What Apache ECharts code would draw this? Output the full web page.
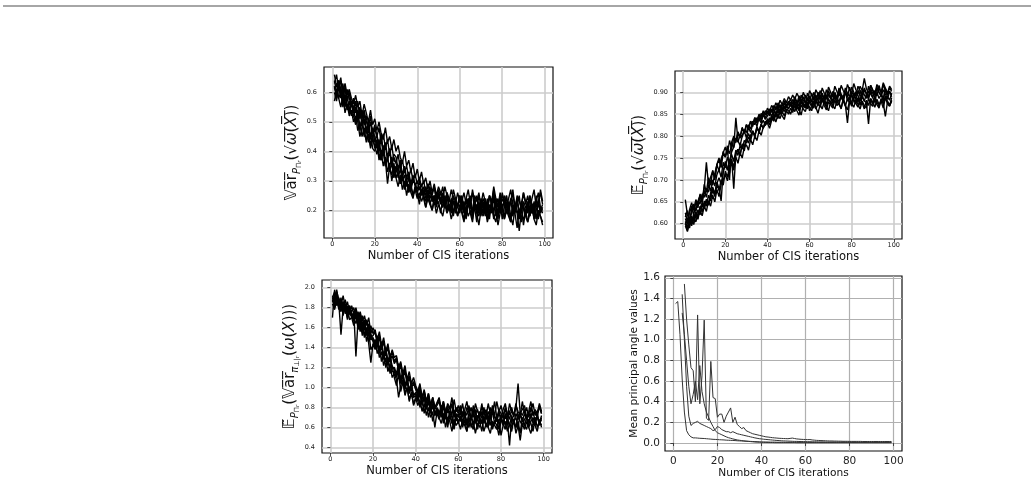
<!DOCTYPE html>
<html>
<head>
<meta charset="utf-8">
<script src="https://cdn.jsdelivr.net/npm/echarts@6/dist/echarts.min.js"></script>
<style>
html, body { margin: 0; padding: 0; background: #fff; }
#main { width: 1034px; height: 482px; }
</style>
</head>
<body>
<div id="main"></div>
<script>
// x values: CIS iteration number
var iterations = [];
for (var i = 1; i <= 99; i++) iterations.push(i);

var xTicks = [0, 20, 40, 60, 80, 100];
var varTicks = [0.2, 0.3, 0.4, 0.5, 0.6];
var meanTicks = [0.60, 0.65, 0.70, 0.75, 0.80, 0.85, 0.90];
var condTicks = [0.4, 0.6, 0.8, 1.0, 1.2, 1.4, 1.6, 1.8, 2.0];
var angleTicks = [0.0, 0.2, 0.4, 0.6, 0.8, 1.0, 1.2, 1.4, 1.6];

// top left: variance of sqrt(omega(X)), one row per run
var varRuns = [
  [.62,.58,.64,.60,.55,.59,.56,.53,.57,.52, .49,.54,.47,.50,.45,.48,.43,.46,.41,.40,
   .43,.37,.40,.35,.38,.33,.36,.30,.34,.31, .28,.32,.27,.30,.25,.29,.26,.24,.28,.26,
   .22,.27,.24,.21,.26,.23,.20,.25,.22,.23, .19,.24,.21,.26,.20,.22,.18,.23,.21,.19,
   .24,.20,.17,.22,.25,.19,.21,.16,.23,.20, .22,.18,.24,.19,.21,.26,.18,.20,.23,.17,
   .21,.25,.19,.16,.22,.20,.24,.18,.21,.15, .20,.23,.18,.22,.19,.25,.17,.21,.20],
  [.63,.66,.61,.64,.60,.63,.59,.61,.58,.56, .59,.55,.57,.52,.56,.53,.50,.54,.49,.51,
   .47,.50,.46,.44,.48,.43,.45,.41,.44,.40, .42,.38,.36,.40,.35,.37,.33,.36,.31,.34,
   .30,.33,.29,.31,.27,.30,.26,.29,.25,.28, .26,.24,.28,.25,.23,.27,.24,.22,.26,.23,
   .25,.21,.24,.27,.22,.20,.25,.23,.26,.21, .24,.22,.19,.25,.23,.27,.21,.24,.20,.26,
   .22,.25,.20,.23,.27,.21,.24,.19,.22,.26, .23,.20,.25,.22,.18,.24,.21,.27,.23],
  [.60,.57,.62,.58,.61,.55,.59,.54,.56,.53, .55,.50,.45,.48,.51,.46,.49,.44,.47,.45,
   .41,.44,.39,.42,.37,.29,.35,.38,.33,.35, .31,.34,.30,.32,.28,.31,.27,.30,.29,.26,
   .28,.25,.27,.24,.26,.28,.23,.25,.22,.26, .24,.21,.25,.22,.20,.24,.23,.19,.22,.25,
   .21,.23,.19,.24,.22,.18,.21,.25,.20,.22, .19,.24,.21,.17,.23,.20,.22,.18,.25,.21,
   .23,.19,.21,.24,.18,.22,.20,.17,.23,.21, .18,.22,.25,.19,.21,.17,.23,.20,.22],
  [.66,.62,.64,.59,.63,.57,.61,.58,.55,.58, .53,.57,.51,.54,.49,.52,.47,.50,.44,.48,
   .45,.42,.46,.40,.43,.38,.41,.36,.39,.38, .34,.37,.32,.35,.31,.33,.29,.32,.28,.30,
   .27,.29,.25,.28,.24,.27,.23,.25,.22,.26, .23,.21,.24,.20,.22,.19,.23,.21,.18,.22,
   .20,.17,.21,.23,.19,.16,.22,.20,.18,.21, .19,.22,.17,.20,.23,.18,.16,.21,.19,.22,
   .17,.20,.23,.18,.15,.21,.19,.13,.20,.22, .18,.16,.21,.19,.23,.17,.20,.18,.15],
  [.61,.63,.58,.60,.56,.59,.54,.57,.52,.55, .50,.53,.48,.51,.46,.44,.48,.42,.45,.41,
   .44,.39,.37,.41,.35,.38,.34,.32,.36,.31, .33,.29,.32,.28,.30,.27,.29,.25,.28,.26,
   .24,.27,.25,.23,.26,.22,.25,.24,.21,.25, .23,.26,.21,.24,.22,.20,.25,.23,.21,.24,
   .22,.19,.24,.21,.23,.26,.20,.22,.19,.24, .21,.23,.20,.25,.22,.19,.24,.21,.23,.20,
   .24,.21,.19,.23,.26,.20,.22,.25,.19,.23, .21,.19,.24,.22,.20,.23,.26,.21,.19],
  [.62,.59,.64,.61,.58,.62,.57,.60,.56,.55, .57,.52,.55,.51,.54,.50,.48,.52,.46,.49,
   .45,.48,.43,.46,.41,.44,.39,.42,.37,.36, .39,.34,.37,.33,.35,.31,.34,.30,.32,.29,
   .31,.28,.30,.26,.29,.27,.25,.28,.24,.27, .25,.28,.23,.26,.24,.22,.27,.24,.21,.25,
   .23,.26,.22,.24,.21,.27,.23,.20,.25,.22, .26,.23,.21,.25,.22,.28,.24,.21,.26,.23,
   .25,.21,.24,.27,.22,.20,.25,.23,.21,.26, .22,.25,.20,.24,.27,.21,.23,.26,.22],
  [.57,.61,.58,.55,.59,.53,.56,.52,.54,.50, .52,.47,.50,.45,.48,.43,.46,.41,.44,.42,
   .39,.42,.37,.40,.35,.38,.33,.36,.31,.34, .32,.29,.31,.27,.30,.26,.28,.25,.27,.24,
   .26,.23,.25,.21,.24,.22,.20,.23,.19,.22, .20,.18,.22,.19,.21,.17,.20,.22,.18,.21,
   .19,.16,.21,.18,.20,.17,.22,.19,.15,.20, .18,.21,.16,.19,.22,.17,.20,.15,.19,.21,
   .17,.20,.18,.16,.21,.19,.14,.20,.18,.17, .20,.16,.19,.22,.17,.15,.20,.18,.16],
  [.64,.60,.62,.65,.59,.61,.57,.60,.56,.54, .57,.51,.54,.49,.53,.47,.50,.45,.48,.43,
   .46,.41,.44,.39,.42,.37,.40,.35,.38,.36, .33,.36,.31,.34,.30,.32,.28,.31,.29,.27,
   .30,.26,.28,.25,.27,.24,.26,.28,.23,.25, .22,.25,.23,.20,.24,.22,.19,.23,.21,.24,
   .20,.22,.18,.23,.21,.19,.24,.20,.22,.18, .23,.20,.18,.22,.19,.24,.21,.17,.22,.20,
   .18,.23,.20,.17,.21,.19,.23,.20,.16,.21, .19,.22,.18,.21,.17,.20,.23,.19,.21]
];

// top right: mean of sqrt(omega(X))
var meanRuns = [
  [.612,.598,.625,.640,.618,.652,.636,.665,.648,.690, .672,.705,.688,.722,.700,.735,.745,.728,.762,.775,
   .758,.790,.772,.796,.785,.808,.795,.820,.806,.826, .815,.834,.822,.842,.830,.848,.836,.852,.840,.858,
   .846,.862,.850,.868,.856,.872,.860,.876,.864,.880, .868,.884,.872,.862,.886,.874,.890,.878,.866,.892,
   .880,.870,.894,.882,.874,.898,.884,.872,.896,.886, .876,.900,.888,.878,.894,.884,.902,.880,.890,.874,
   .898,.886,.878,.904,.890,.880,.896,.884,.906,.888, .878,.900,.886,.894,.880,.908,.890,.882,.898],
  [.600,.585,.608,.595,.615,.604,.622,.630,.618,.640, .628,.652,.640,.665,.650,.678,.662,.690,.700,.712,
   .698,.725,.740,.722,.752,.738,.762,.750,.775,.780, .768,.792,.780,.800,.790,.812,.802,.820,.826,.830,
   .818,.836,.845,.832,.850,.840,.856,.846,.862,.858, .850,.866,.856,.872,.860,.848,.870,.864,.878,.858,
   .868,.880,.862,.874,.866,.884,.870,.860,.878,.872, .864,.882,.870,.876,.862,.886,.872,.830,.880,.868,
   .884,.874,.866,.888,.876,.862,.882,.870,.886,.878, .866,.884,.872,.880,.864,.888,.874,.868,.882],
  [.655,.620,.608,.632,.645,.628,.652,.664,.648,.676, .660,.690,.674,.700,.686,.712,.724,.706,.740,.728,
   .752,.736,.764,.775,.842,.790,.778,.800,.812,.796, .820,.808,.828,.836,.822,.842,.830,.850,.838,.846,
   .856,.844,.862,.850,.868,.856,.874,.862,.880,.870, .878,.866,.886,.874,.892,.880,.870,.894,.882,.876,
   .898,.884,.872,.900,.888,.878,.894,.884,.904,.890, .880,.896,.886,.910,.892,.882,.900,.890,.912,.894,
   .884,.902,.892,.880,.906,.894,.886,.914,.896,.888, .904,.892,.916,.898,.886,.908,.894,.902,.890],
  [.595,.582,.604,.612,.598,.622,.610,.635,.648,.640, .656,.645,.670,.684,.668,.695,.680,.652,.720,.742,
   .728,.715,.748,.680,.760,.770,.756,.782,.776,.795, .784,.802,.812,.798,.820,.808,.826,.836,.824,.840,
   .832,.848,.838,.856,.844,.862,.852,.868,.858,.864, .872,.860,.876,.866,.858,.880,.868,.874,.862,.882,
   .872,.864,.886,.874,.868,.888,.876,.866,.884,.878, .870,.890,.878,.872,.892,.880,.868,.886,.876,.894,
   .882,.874,.888,.870,.892,.880,.876,.828,.884,.872, .890,.878,.868,.886,.874,.892,.880,.870,.888],
  [.615,.630,.608,.625,.642,.630,.650,.645,.668,.660, .680,.672,.700,.688,.715,.735,.720,.748,.760,.752,
   .770,.760,.782,.774,.796,.786,.804,.798,.815,.808, .826,.816,.834,.826,.842,.834,.852,.844,.858,.850,
   .862,.854,.870,.860,.876,.866,.858,.880,.870,.876, .884,.872,.890,.878,.868,.894,.882,.876,.898,.886,
   .878,.900,.890,.882,.904,.892,.884,.906,.894,.886, .902,.892,.884,.908,.896,.888,.910,.898,.890,.912,
   .900,.892,.914,.904,.894,.910,.898,.890,.916,.904, .894,.912,.900,.892,.918,.904,.896,.910,.902],
  [.600,.612,.590,.618,.605,.628,.615,.640,.626,.652, .640,.665,.652,.678,.662,.690,.676,.700,.688,.720,
   .706,.732,.745,.730,.758,.770,.756,.780,.766,.792, .806,.794,.812,.800,.822,.810,.828,.818,.832,.836,
   .826,.842,.834,.850,.840,.856,.846,.838,.858,.850, .864,.854,.870,.858,.848,.872,.862,.856,.874,.866,
   .858,.876,.866,.852,.872,.862,.880,.868,.858,.878, .870,.862,.882,.872,.864,.884,.870,.860,.880,.874,
   .866,.884,.872,.862,.880,.870,.864,.886,.874,.868, .882,.872,.864,.884,.876,.845,.878,.870,.880],
  [.625,.605,.632,.648,.630,.655,.642,.668,.655,.680, .740,.690,.706,.720,.704,.735,.750,.738,.765,.752,
   .778,.700,.786,.800,.788,.810,.798,.818,.808,.826, .818,.834,.826,.842,.834,.850,.842,.858,.848,.864,
   .856,.870,.862,.876,.866,.882,.872,.886,.876,.890, .882,.894,.884,.898,.888,.876,.900,.890,.880,.904,
   .894,.884,.906,.896,.886,.910,.898,.888,.912,.900, .890,.914,.902,.892,.916,.904,.894,.918,.906,.896,
   .920,.906,.896,.914,.904,.932,.908,.898,.916,.906, .896,.918,.908,.900,.922,.910,.898,.914,.906],
  [.605,.590,.615,.600,.622,.612,.632,.620,.645,.634, .652,.642,.665,.680,.668,.692,.705,.690,.718,.735,
   .722,.745,.758,.742,.768,.756,.778,.770,.790,.784, .798,.790,.810,.802,.818,.810,.826,.818,.834,.828,
   .842,.836,.850,.844,.858,.850,.864,.856,.870,.862, .874,.866,.880,.870,.862,.884,.874,.866,.888,.876,
   .868,.890,.880,.872,.892,.882,.874,.894,.884,.876, .896,.886,.878,.898,.888,.880,.900,.890,.882,.902,
   .892,.884,.904,.894,.886,.906,.896,.888,.908,.898, .888,.910,.900,.892,.906,.896,.884,.902,.894]
];

// bottom left: mean of the conditional variance of omega(X)
var condRuns = [
  [1.88,1.80,1.94,1.78,1.86,1.72,1.82,1.68,1.76,1.70, 1.62,1.74,1.58,1.66,1.52,1.62,1.46,1.56,1.38,1.42,
   1.48,1.34,1.40,1.26,1.36,1.20,1.30,1.14,1.22,1.10, 1.02,1.14,0.96,1.06,0.92,1.00,0.86,0.96,0.82,0.88,
   0.94,0.80,0.88,0.74,0.84,0.70,0.80,0.66,0.76,0.74, 0.68,0.78,0.64,0.74,0.60,0.72,0.66,0.58,0.70,0.64,
   0.72,0.60,0.68,0.56,0.70,0.64,0.58,0.72,0.62,0.66, 0.56,0.70,0.64,0.60,0.74,0.58,0.66,0.62,0.52,0.68,
   0.64,0.58,0.70,0.62,0.56,0.68,0.60,0.66,0.54,0.70, 0.62,0.58,0.68,0.64,0.56,0.70,0.60,0.66,0.62],
  [1.90,1.84,1.96,1.88,1.82,1.92,1.80,1.86,1.76,1.82, 1.74,1.80,1.70,1.76,1.66,1.72,1.62,1.70,1.54,1.60,
   1.54,1.48,1.56,1.42,1.50,1.36,1.44,1.30,1.38,1.30, 1.32,1.20,1.26,1.14,1.22,1.08,1.16,1.04,1.10,1.02,
   0.96,1.04,0.90,0.98,0.86,0.94,0.82,0.90,0.80,0.85, 0.90,0.78,0.86,0.74,0.84,0.80,0.72,0.88,0.76,0.82,
   0.74,0.84,0.70,0.80,0.76,0.68,0.82,0.74,0.78,0.70, 0.84,0.72,0.78,0.68,0.80,0.74,0.86,0.70,0.76,0.82,
   0.72,0.78,0.70,0.84,0.76,0.72,0.80,1.04,0.74,0.78, 0.82,0.70,0.76,0.86,0.72,0.78,0.74,0.84,0.76],
  [1.70,1.98,1.86,1.80,1.90,1.76,1.84,1.70,1.78,1.72, 1.66,1.76,1.62,1.70,1.56,1.64,1.52,1.60,1.48,1.50,
   1.44,1.52,1.38,1.46,1.32,1.40,1.26,1.34,1.20,1.20, 1.14,1.24,1.08,1.16,1.02,1.10,0.98,1.04,0.92,0.95,
   0.88,0.98,0.84,0.92,0.80,0.88,0.76,0.84,0.72,0.80, 0.76,0.70,0.82,0.68,0.78,0.72,0.64,0.76,0.70,0.74,
   0.66,0.76,0.70,0.62,0.74,0.68,0.78,0.64,0.72,0.70, 0.76,0.64,0.72,0.68,0.62,0.76,0.70,0.66,0.74,0.68,
   0.62,0.72,0.66,0.76,0.70,0.64,0.74,0.68,0.72,0.66, 0.74,0.68,0.62,0.72,0.76,0.66,0.70,0.64,0.72],
  [1.92,1.86,1.98,1.84,1.53,1.80,1.88,1.76,1.82,1.74, 1.70,1.64,1.72,1.58,1.66,1.52,1.60,1.46,1.54,1.46,
   1.40,1.48,1.34,1.42,1.28,1.36,1.22,1.30,1.16,1.16, 1.10,1.18,1.04,1.12,0.98,1.06,0.94,1.00,0.90,0.92,
   0.86,0.94,0.82,0.90,0.78,0.86,0.74,0.82,0.72,0.78, 0.72,0.80,0.68,0.76,0.64,0.74,0.70,0.60,0.72,0.66,
   0.70,0.62,0.74,0.66,0.60,0.72,0.64,0.68,0.58,0.70, 0.64,0.72,0.60,0.68,0.74,0.62,0.66,0.70,0.58,0.68,
   0.72,0.62,0.66,0.42,0.70,0.64,0.60,0.72,0.66,0.62, 0.68,0.72,0.60,0.66,0.70,0.62,0.74,0.64,0.68],
  [1.86,1.92,1.82,1.88,1.78,1.84,1.80,1.74,1.82,1.76, 1.80,1.70,1.76,1.64,1.72,1.60,1.68,1.56,1.62,1.54,
   1.58,1.46,1.52,1.40,1.46,1.34,1.40,1.28,1.32,1.24, 1.28,1.16,1.22,1.10,1.16,1.04,1.10,1.00,1.04,0.98,
   0.92,1.00,0.88,0.96,0.84,0.92,0.80,0.88,0.78,0.82, 0.86,0.76,0.84,0.72,0.80,0.74,0.84,0.70,0.78,0.74,
   0.80,0.70,0.76,0.72,0.82,0.68,0.74,0.78,0.66,0.76, 0.72,0.80,0.68,0.76,0.70,0.82,0.72,0.66,0.78,0.74,
   0.70,0.80,0.74,0.68,0.78,0.72,0.84,0.70,0.76,0.72, 0.78,0.68,0.74,0.80,0.72,0.76,0.70,0.82,0.74],
  [1.90,1.96,1.84,1.90,1.80,1.86,1.74,1.80,1.68,1.70, 1.76,1.31,1.68,1.56,1.64,1.50,1.58,1.44,1.25,1.44,
   1.38,1.44,1.30,1.36,1.22,1.30,1.16,1.24,1.10,1.14, 1.08,0.90,1.02,1.08,0.94,1.00,0.88,0.94,0.84,0.90,
   0.82,0.88,0.76,0.84,0.72,0.80,0.70,0.76,0.60,0.76, 0.70,0.64,0.74,0.60,0.70,0.66,0.56,0.68,0.62,0.66,
   0.58,0.68,0.62,0.56,0.70,0.60,0.66,0.54,0.64,0.60, 0.68,0.56,0.64,0.60,0.54,0.66,0.62,0.58,0.68,0.52,
   0.62,0.66,0.56,0.64,0.60,0.68,0.54,0.62,0.47,0.64, 0.58,0.66,0.60,0.54,0.64,0.62,0.56,0.68,0.60],
  [1.84,1.78,1.88,1.82,1.76,1.86,1.80,1.74,1.78,1.74, 1.70,1.78,1.66,1.74,1.60,1.68,1.56,1.64,1.50,1.52,
   1.56,1.44,1.50,1.38,1.46,1.34,1.40,1.30,1.36,1.26, 1.30,1.18,1.24,1.12,1.18,1.06,1.12,1.02,1.06,1.00,
   0.94,1.02,0.90,0.96,0.86,0.94,0.82,0.90,0.80,0.84, 0.88,0.78,0.86,0.76,0.82,0.78,0.90,0.74,0.80,0.76,
   0.82,0.72,0.78,0.86,0.74,0.80,0.70,0.84,0.76,0.72, 0.80,0.76,0.70,0.84,0.74,0.78,0.72,0.86,0.76,0.70,
   0.78,0.84,0.72,0.76,0.80,0.70,0.82,0.76,0.72,0.86, 0.74,0.80,0.70,0.78,0.84,0.72,0.76,0.80,0.74],
  [1.88,1.82,1.92,1.86,1.80,1.84,1.76,1.82,1.74,1.72, 1.68,1.74,1.64,1.70,1.58,1.66,1.54,1.60,1.48,1.48,
   1.42,1.50,1.36,1.44,1.30,1.38,1.24,1.32,1.20,1.18, 1.12,1.20,1.06,1.14,1.00,1.08,0.96,1.02,0.92,0.94,
   0.88,0.96,0.84,0.90,0.80,0.88,0.76,0.84,0.74,0.79, 0.74,0.82,0.70,0.78,0.66,0.76,0.72,0.64,0.74,0.70,
   0.76,0.66,0.72,0.64,0.74,0.70,0.62,0.76,0.68,0.64, 0.72,0.66,0.74,0.62,0.70,0.76,0.64,0.70,0.66,0.72,
   0.64,0.74,0.68,0.62,0.72,0.66,0.70,0.60,0.74,0.68, 0.62,0.70,0.66,0.74,0.64,0.68,0.72,0.62,0.70]
];

// bottom right: mean principal angle values (null = run not started yet)
var angleRuns = [
  [1.35,1.37,1.05,0.62,0.30,0.12,0.08,0.06,0.05,0.05, 0.048,0.046,0.045,0.044,0.042,0.040,0.038,0.036,0.035,0.034,
   0.032,0.031,0.030,0.028,0.027,0.026,0.025,0.024,0.022,0.021, 0.020,0.019,0.018,0.017,0.016,0.015,0.014,0.013,0.012,0.011,
   0.011,0.010,0.010,0.009,0.009,0.009,0.008,0.008,0.008,0.008, 0.007,0.007,0.007,0.007,0.007,0.007,0.007,0.007,0.007,0.007,
   0.006,0.006,0.006,0.006,0.006,0.006,0.006,0.006,0.006,0.006, 0.006,0.006,0.006,0.006,0.006,0.006,0.006,0.006,0.006,0.006,
   0.005,0.005,0.005,0.005,0.005,0.005,0.005,0.005,0.005,0.005, 0.005,0.005,0.005,0.005,0.005,0.005,0.005,0.005,0.005],
  [null,null,null,1.44,1.00,0.55,0.26,0.17,0.19,0.20, 0.21,0.19,0.18,0.17,0.16,0.15,0.14,0.12,0.13,0.16,
   0.15,0.13,0.12,0.11,0.11,0.10,0.11,0.10,0.09,0.085, 0.080,0.075,0.070,0.065,0.060,0.055,0.050,0.046,0.042,0.040,
   0.037,0.035,0.033,0.031,0.029,0.027,0.025,0.024,0.022,0.021, 0.020,0.019,0.018,0.017,0.016,0.016,0.015,0.015,0.014,0.014,
   0.013,0.013,0.012,0.012,0.012,0.011,0.011,0.011,0.010,0.010, 0.010,0.010,0.010,0.010,0.010,0.010,0.010,0.010,0.010,0.010,
   0.009,0.009,0.009,0.009,0.009,0.009,0.009,0.009,0.009,0.009, 0.009,0.009,0.009,0.009,0.009,0.009,0.009,0.009,0.009],
  [null,null,null,1.26,1.05,0.80,0.55,0.38,0.47,0.60, 0.42,0.75,0.50,0.38,0.30,0.25,0.20,0.16,0.12,0.10,
   0.090,0.080,0.070,0.060,0.052,0.046,0.040,0.035,0.030,0.027, 0.024,0.021,0.018,0.016,0.014,0.012,0.010,0.009,0.008,0.007,
   0.006,0.006,0.005,0.005,0.005,0.004,0.004,0.004,0.004,0.004, 0.004,0.004,0.004,0.004,0.004,0.003,0.003,0.003,0.003,0.003,
   0.003,0.003,0.003,0.003,0.003,0.003,0.003,0.003,0.003,0.003, 0.003,0.003,0.003,0.003,0.003,0.003,0.003,0.003,0.003,0.003,
   0.003,0.003,0.003,0.003,0.003,0.003,0.003,0.003,0.003,0.003, 0.003,0.003,0.003,0.003,0.003,0.003,0.003,0.003,0.003],
  [null,null,null,null,1.54,1.20,0.95,0.73,0.70,0.40, 1.24,0.38,0.65,1.19,0.24,0.22,0.79,0.44,0.43,0.25,
   0.28,0.28,0.20,0.26,0.30,0.34,0.20,0.25,0.18,0.16, 0.14,0.15,0.12,0.11,0.10,0.09,0.085,0.080,0.075,0.070,
   0.065,0.060,0.058,0.055,0.052,0.050,0.048,0.046,0.045,0.044, 0.043,0.042,0.045,0.048,0.044,0.040,0.038,0.036,0.035,0.034,
   0.033,0.034,0.030,0.028,0.026,0.025,0.024,0.023,0.022,0.021, 0.020,0.020,0.019,0.019,0.018,0.018,0.017,0.017,0.017,0.016,
   0.016,0.016,0.016,0.016,0.016,0.015,0.015,0.015,0.015,0.015, 0.015,0.015,0.015,0.015,0.015,0.015,0.015,0.015,0.015]
];

var dom = document.getElementById('main');
var myChart = echarts.init(dom);

function toPoints(vals) {
  var pts = [];
  vals.forEach(function (v, i) {
    if (v !== null) pts.push([iterations[i], v]);
  });
  return pts;
}

function runSeries(runs, idx, color, width) {
  return runs.map(function (r) {
    return {
      type: 'line', xAxisIndex: idx, yAxisIndex: idx,
      data: toPoints(r), symbol: 'none', silent: true,
      lineStyle: { color: color, width: width }
    };
  });
}

var smallGrid = { color: '#cccccc', width: 1.6 };
var bigGrid = { color: '#b0b0b0', width: 1.2 };

function xAxisFor(idx, min, max, big) {
  return {
    type: 'value', gridIndex: idx, min: min, max: max,
    name: 'Number of CIS iterations', nameLocation: 'middle',
    nameGap: big ? 13 : 12,
    nameTextStyle: { fontFamily: 'DejaVu Sans', fontSize: big ? 10.6 : 11.5, color: '#111' },
    axisLine: { show: false },
    axisTick: { customValues: xTicks, length: 3, lineStyle: { color: '#222', width: 0.8 } },
    axisLabel: { customValues: xTicks, margin: big ? 5 : 3, fontFamily: 'DejaVu Sans',
                 fontSize: big ? 10.5 : 6.5, color: '#222' },
    splitLine: { show: true, lineStyle: big ? bigGrid : smallGrid }
  };
}

function yAxisFor(idx, min, max, ticks, digits, name, gap, big) {
  return {
    type: 'value', gridIndex: idx, min: min, max: max,
    name: name, nameLocation: 'middle', nameRotate: 90, nameGap: gap,
    nameTextStyle: big
      ? { fontFamily: 'DejaVu Sans', fontSize: 10.6, color: '#111' }
      : { fontFamily: 'DejaVu Sans', color: '#111', rich: mathRich },
    axisLine: { show: false },
    axisTick: { customValues: ticks, length: 3, lineStyle: { color: '#222', width: 0.8 } },
    axisLabel: { customValues: ticks, margin: big ? 5 : 7, fontFamily: 'DejaVu Sans',
                 fontSize: big ? 10.5 : 6.5, color: '#222',
                 formatter: function (v) { return v.toFixed(digits); } },
    splitLine: { show: true, lineStyle: big ? bigGrid : smallGrid }
  };
}

var mathRich = {
  m: { fontFamily: 'DejaVu Sans', fontSize: 15, lineHeight: 22, verticalAlign: 'middle', color: '#111' },
  mi: { fontFamily: 'DejaVu Sans', fontStyle: 'italic', fontSize: 15, lineHeight: 22, verticalAlign: 'middle', color: '#111' },
  s: { fontFamily: 'DejaVu Sans', fontStyle: 'italic', fontSize: 10, lineHeight: 13, verticalAlign: 'bottom', color: '#111' },
  ss: { fontFamily: 'DejaVu Sans', fontSize: 7, lineHeight: 8, verticalAlign: 'bottom', color: '#111' },
  sss: { fontFamily: 'DejaVu Sans', fontStyle: 'italic', fontSize: 5.5, lineHeight: 5, verticalAlign: 'bottom', color: '#111' }
};

var sqrtOmega = '{m|(√}{mi|ω\u0305}{m|(\u0305}{mi|X\u0305}{m|)\u0305)}';
var varName = '{m|\uD835\uDD4Da\u0305r\u0305}{s|P}{ss|Π}{sss|r}' + sqrtOmega;
var meanName = '{m|\uD835\uDD3C\u0303}{s|P}{ss|Π}{sss|r}' + sqrtOmega;
var condName = '{m|\uD835\uDD3C\u0303}{s|P}{ss|Π}{sss|r}{m|(\uD835\uDD4Da\u0305r\u0305}{s|π}{ss|⊥|}{sss|r}{m|(}{mi|ω}{m|(}{mi|X}{m|)))}';

var frame = { show: true, borderColor: '#111', borderWidth: 1.2, backgroundColor: 'transparent' };

option = {
  animation: false,
  backgroundColor: '#fff',
  graphic: [{
    type: 'line', shape: { x1: 3, y1: 6, x2: 1031, y2: 6 },
    style: { stroke: '#888', lineWidth: 1.5 }, silent: true
  }],
  grid: [
    Object.assign({ left: 324, top: 67, width: 229, height: 171 }, frame),
    Object.assign({ left: 675, top: 71, width: 227, height: 168 }, frame),
    Object.assign({ left: 322, top: 280, width: 230, height: 173 }, frame),
    Object.assign({ left: 665, top: 276, width: 237, height: 175 }, frame)
  ],
  xAxis: [
    xAxisFor(0, -3.9, 103.9, false),
    xAxisFor(1, -3.9, 103.9, false),
    xAxisFor(2, -3.9, 103.9, false),
    xAxisFor(3, -3.8, 103.8, true)
  ],
  yAxis: [
    yAxisFor(0, 0.1061, 0.6858, varTicks, 1, varName, 17, false),
    yAxisFor(1, 0.565, 0.9487, meanTicks, 2, meanName, 20, false),
    yAxisFor(2, 0.344, 2.077, condTicks, 1, condName, 14, false),
    yAxisFor(3, -0.077, 1.617, angleTicks, 1, 'Mean principal angle values', 18, true)
  ],
  series: [].concat(
    runSeries(varRuns, 0, '#000', 1.4),
    runSeries(meanRuns, 1, '#000', 1.4),
    runSeries(condRuns, 2, '#000', 1.4),
    runSeries(angleRuns, 3, '#333', 1)
  )
};

if (option && typeof option === 'object') {
  myChart.setOption(option, true);
}
</script>
</body>
</html>
